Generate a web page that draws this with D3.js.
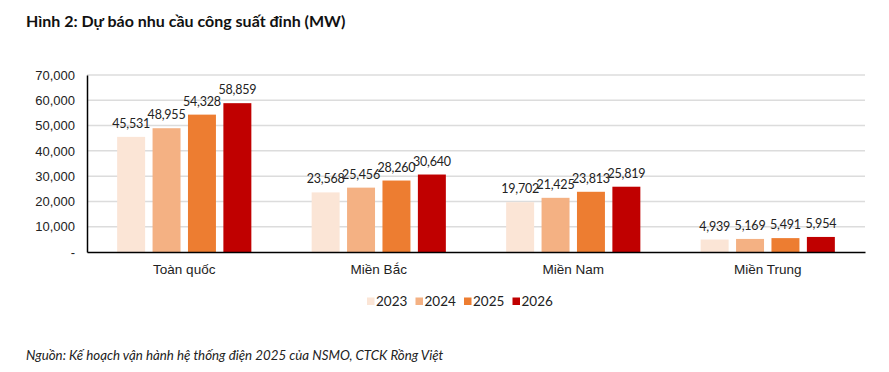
<!DOCTYPE html>
<html>
<head>
<meta charset="utf-8">
<script src="https://cdn.jsdelivr.net/npm/d3@7"></script>
<style>
  body { margin: 0; background: #fff; }
  svg { display: block; font-family: Lato, sans-serif; }
</style>
</head>
<body>
<svg id="chart"></svg>
<script>
const categories = ['Toàn quốc', 'Miền Bắc', 'Miền Nam', 'Miền Trung'];
const years = ['2023', '2024', '2025', '2026'];
const values2023 = [45531, 23568, 19702, 4939];
const values2024 = [48955, 25456, 21425, 5169];
const values2025 = [54328, 28260, 23813, 5491];
const values2026 = [58859, 30640, 25819, 5954];
const yTicks = [0, 10000, 20000, 30000, 40000, 50000, 60000, 70000];
const colors = ['#FBE5D6', '#F4B183', '#ED7D31', '#C00000'];

const series = [values2023, values2024, values2025, values2026];

const svg = d3.select('#chart').attr('width', 889).attr('height', 372);

// title
svg.append('text')
  .attr('x', 26).attr('y', 27)
  .style('font-size', '16px').style('font-weight', 'bold')
  .style('fill', '#111')
  .text('Hình 2: Dự báo nhu cầu công suất đỉnh (MW)');

const margin = {top: 75, right: 24, bottom: 120, left: 87},
      width = 889 - margin.left - margin.right,
      height = 372 - margin.top - margin.bottom;

const g = svg.append('g').attr('transform', 'translate(' + margin.left + ',' + margin.top + ')');

const x0 = d3.scaleBand().domain(categories).range([0, width]).paddingInner(0.31).paddingOuter(0.155);
const x1 = d3.scaleBand().domain(years).range([0, x0.bandwidth()]).paddingInner(0.21).paddingOuter(0);
const y = d3.scaleLinear().domain([0, 70000]).range([height, 0]);

// gridlines
g.append('g')
  .selectAll('line')
  .data(yTicks.slice(1))
  .join('line')
  .attr('x1', 0).attr('x2', width)
  .attr('y1', d => y(d)).attr('y2', d => y(d))
  .attr('stroke', '#dcdcdc').attr('stroke-width', 1.5);

// bars
const groups = g.selectAll('.grp')
  .data(categories)
  .join('g')
  .attr('transform', d => 'translate(' + x0(d) + ',0)');

groups.selectAll('rect')
  .data((d, i) => years.map((yr, j) => ({yr, v: series[j][i], c: colors[j]})))
  .join('rect')
  .attr('x', d => x1(d.yr))
  .attr('y', d => y(d.v))
  .attr('width', x1.bandwidth())
  .attr('height', d => height - y(d.v))
  .attr('fill', d => d.c);

groups.selectAll('text')
  .data((d, i) => years.map((yr, j) => ({yr, v: series[j][i]})))
  .join('text')
  .attr('x', d => x1(d.yr) + x1.bandwidth() / 2)
  .attr('y', d => y(d.v) - 9)
  .attr('text-anchor', 'middle')
  .style('font-size', '12.5px').style('letter-spacing', '-0.2px').style('fill', '#222')
  .text(d => d3.format(',')(d.v));

// y axis
const yAxis = g.append('g')
  .call(d3.axisLeft(y).tickValues(yTicks).tickSize(0).tickPadding(12)
    .tickFormat(d => d === 0 ? '-' : d3.format(',')(d)));
yAxis.select('.domain').attr('stroke', '#000').attr('stroke-width', 1.5);
yAxis.selectAll('text').style('font-size', '13px').style('fill', '#222').attr('font-family', null);

// x axis
const xAxis = g.append('g')
  .attr('transform', 'translate(0,' + height + ')')
  .call(d3.axisBottom(x0).tickSize(0).tickPadding(12).tickSizeOuter(0));
xAxis.select('.domain').attr('stroke', '#000').attr('stroke-width', 1.5);
xAxis.selectAll('text').style('font-size', '13.5px').style('fill', '#222').attr('font-family', null);

// legend
const legend = svg.append('g').attr('transform', 'translate(367,296)');
const legItems = legend.selectAll('g')
  .data(years)
  .join('g')
  .attr('transform', (d, i) => 'translate(' + (i * 48.5) + ',0)');
legItems.append('rect').attr('width', 7.5).attr('height', 7.5).attr('y', 1.5)
  .attr('fill', (d, i) => colors[i]);
legItems.append('text').attr('x', 9).attr('y', 10)
  .style('font-size', '13.5px').style('fill', '#222')
  .text(d => d);

// source
svg.append('text')
  .attr('x', 26).attr('y', 360)
  .style('font-size', '13.3px').style('font-style', 'italic').style('fill', '#222')
  .text('Nguồn: Kế hoạch vận hành hệ thống điện 2025 của NSMO, CTCK Rồng Việt');
</script>
</body>
</html>
